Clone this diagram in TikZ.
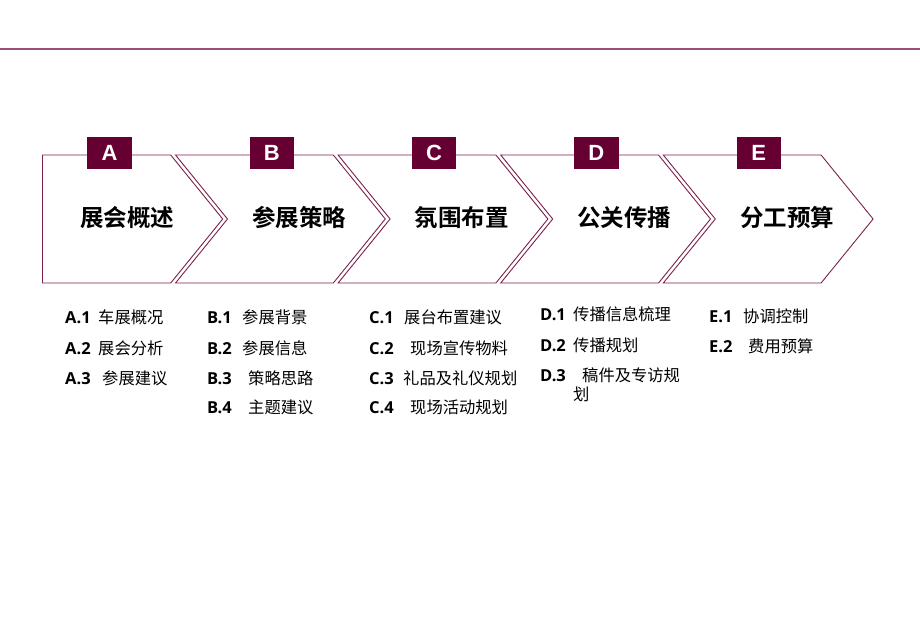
\documentclass[tikz,border=0pt]{standalone}
\usepackage{fontspec}
\setmainfont{Noto Sans CJK SC}[BoldFont={Noto Sans CJK SC Bold}]
\newfontfamily\latf{Open Sans}
\newfontfamily\boxf{Liberation Sans}
\definecolor{maroon}{HTML}{660033}
\definecolor{chevline}{HTML}{7A1F4E}
\definecolor{topline}{HTML}{9A4F74}
\tikzset{
  chev/.style={draw=chevline, line width=0.9pt, line join=miter},
  lettbox/.style={fill=maroon, minimum width=44.4pt, minimum height=32pt, inner sep=0pt, text=white, font=\boxf\bfseries\fontsize{22}{22}\selectfont},
  ttl/.style={font=\bfseries\fontsize{23.5}{23.5}\selectfont, inner sep=0pt},
  lab/.style={anchor=west, inner sep=0pt, font=\latf\bfseries\fontsize{16.5}{16.5}\selectfont, text height=11pt, text depth=3pt},
  itm/.style={anchor=west, inner sep=0pt, font=\fontsize{16.3}{16.3}\selectfont, text height=11pt, text depth=3pt}
}
\begin{document}
\begin{tikzpicture}[x=1pt,y=-1pt]
\useasboundingbox (0,0) rectangle (920,637);
\draw[topline, line width=1.1pt] (0,49) -- (920,49);
% chevrons
\foreach \k in {0,...,4}{
  \pgfmathsetmacro\R{170.7+162.6*\k}
  \pgfmathsetmacro\T{\R+52}
  \pgfmathsetmacro\L{\R-162.6+4.8}
  \pgfmathsetmacro\N{\L+52}
  \ifnum\k=0
    \draw[chev] (42.5,155) -- (\R,155) -- (\T,219) -- (\R,283) -- (42.5,283) -- cycle;
  \else
    \draw[chev] (\L,155) -- (\R,155) -- (\T,219) -- (\R,283) -- (\L,283) -- (\N,219) -- cycle;
  \fi
}
% letter boxes
\foreach \lt [count=\i from 0] in {A,B,C,D,E}{
  \pgfmathsetmacro\cx{109.5+162.3*\i}
  \node[lettbox] (box\lt) at (\cx,153.3) {\lt};
}
% titles
\node[ttl] (tA) at (127,217.5) {展会概述};
\node[ttl] (tB) at (299,217.5) {参展策略};
\node[ttl] (tC) at (461.5,217.5) {氛围布置};
\node[ttl] (tD) at (624,217.5) {公关传播};
\node[ttl] (tE) at (787,217.5) {分工预算};
% A items
\node[lab] (la1) at (65,319.5) {A.1};  \node[itm] (ia1) at (98,319.5) {车展概况};
\node[lab] (la2) at (65,350.5) {A.2};  \node[itm] (ia2) at (98,350.5) {展会分析};
\node[lab] (la3) at (65,380.5) {A.3};  \node[itm] (ia3) at (102,380.5) {参展建议};
% B items
\node[lab] (lb1) at (207,319.5) {B.1};  \node[itm] (ib1) at (242,319.5) {参展背景};
\node[lab] (lb2) at (207,350.5) {B.2};  \node[itm] (ib2) at (242,350.5) {参展信息};
\node[lab] (lb3) at (207,380.5) {B.3};  \node[itm] (ib3) at (248,380.5) {策略思路};
\node[lab] (lb4) at (207,409.5) {B.4};  \node[itm] (ib4) at (248,409.5) {主题建议};
% C items
\node[lab] (lc1) at (369,319.5) {C.1};  \node[itm] (ic1) at (404,319.5) {展台布置建议};
\node[lab] (lc2) at (369,350.5) {C.2};  \node[itm] (ic2) at (410,350.5) {现场宣传物料};
\node[lab] (lc3) at (369,380.5) {C.3};  \node[itm] (ic3) at (403,380.5) {礼品及礼仪规划};
\node[lab] (lc4) at (369,409.5) {C.4};  \node[itm] (ic4) at (410,409.5) {现场活动规划};
% D items
\node[lab] (ld1) at (540,316.5) {D.1};  \node[itm] (id1) at (573,316.5) {传播信息梳理};
\node[lab] (ld2) at (540,347.5) {D.2};  \node[itm] (id2) at (573,347.5) {传播规划};
\node[lab] (ld3) at (540,377.5) {D.3};  \node[itm] (id3) at (582,377.5) {稿件及专访规};
\node[itm] (id3b) at (573,396.5) {划};
% E items
\node[lab] (le1) at (709,318.5) {E.1};  \node[itm] (ie1) at (743,318.5) {协调控制};
\node[lab] (le2) at (709,348.5) {E.2};  \node[itm] (ie2) at (748,348.5) {费用预算};
\end{tikzpicture}
\end{document}
